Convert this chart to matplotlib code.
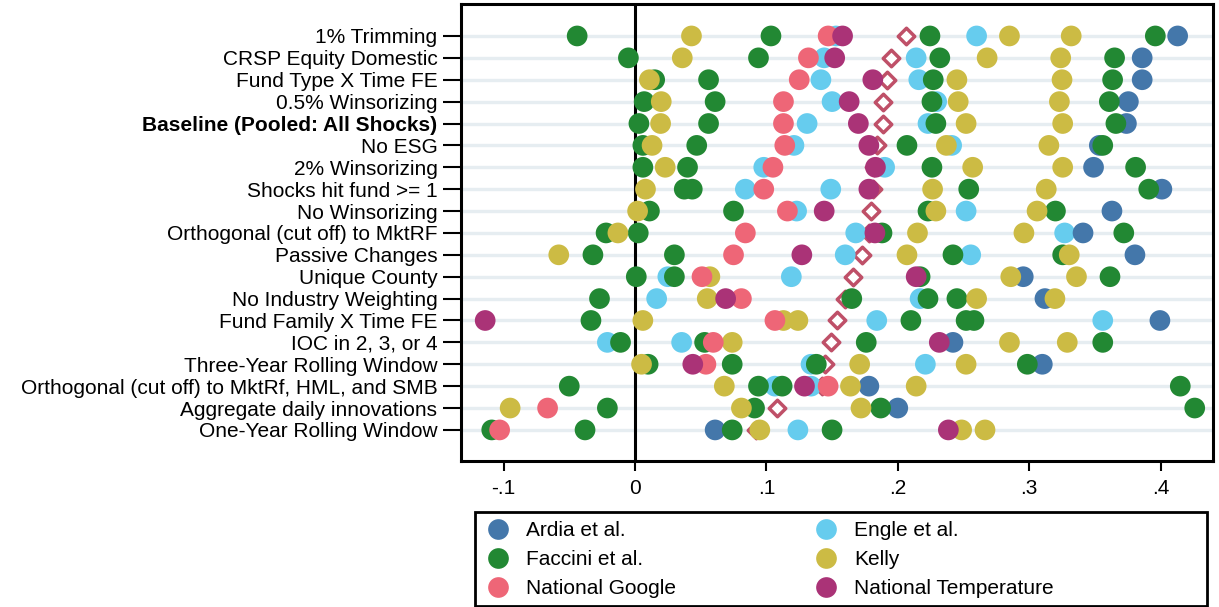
import numpy as np
import matplotlib
matplotlib.use("Agg")
import matplotlib.pyplot as plt
from matplotlib.lines import Line2D
from matplotlib.patches import Rectangle

plt.rcParams['font.family'] = ['Liberation Sans', 'DejaVu Sans']

categories = [
    "1% Trimming", "CRSP Equity Domestic", "Fund Type X Time FE", "0.5% Winsorizing",
    "Baseline (Pooled: All Shocks)", "No ESG", "2% Winsorizing", "Shocks hit fund >= 1",
    "No Winsorizing", "Orthogonal (cut off) to MktRF", "Passive Changes", "Unique County",
    "No Industry Weighting", "Fund Family X Time FE", "IOC in 2, 3, or 4",
    "Three-Year Rolling Window", "Orthogonal (cut off) to MktRf, HML, and SMB",
    "Aggregate daily innovations", "One-Year Rolling Window",
]

ardia = [[0.413], [0.386], [0.386], [0.3755], [0.374], [0.3534], [0.349], [0.401], [0.363],
         [0.341], [0.3805], [0.2955], [0.312], [0.3995], [0.242], [0.310], [0.178], [0.200], [0.061]]

engle = [[0.153, 0.260], [0.144, 0.214], [0.1415, 0.216], [0.150, 0.2296], [0.131, 0.223],
         [0.121, 0.241], [0.098, 0.190], [0.084, 0.149], [0.123, 0.252], [0.168, 0.327],
         [0.160, 0.2555], [0.025, 0.119], [0.0165, 0.217], [0.184, 0.356], [-0.021, 0.0355],
         [0.134, 0.221], [0.1065, 0.134], [], [0.124]]

faccini = [[-0.044, 0.1035, 0.2245, 0.396], [-0.005, 0.094, 0.232, 0.365],
           [0.015, 0.056, 0.227, 0.3635], [0.007, 0.061, 0.226, 0.361],
           [0.003, 0.056, 0.229, 0.366], [0.006, 0.047, 0.207, 0.356],
           [0.006, 0.040, 0.226, 0.381], [0.0375, 0.0436, 0.254, 0.391],
           [0.011, 0.075, 0.223, 0.320], [-0.022, 0.0025, 0.188, 0.372],
           [-0.032, 0.030, 0.242, 0.3255], [0.001, 0.030, 0.217, 0.3615],
           [-0.027, 0.165, 0.223, 0.245], [-0.0335, 0.210, 0.252, 0.258],
           [-0.011, 0.053, 0.176, 0.356], [0.010, 0.074, 0.138, 0.2986],
           [-0.050, 0.094, 0.112, 0.415], [-0.021, 0.091, 0.187, 0.426],
           [-0.109, -0.038, 0.074, 0.150]]

kelly = [[0.043, 0.285, 0.332], [0.036, 0.268, 0.324], [0.011, 0.245, 0.325],
         [0.020, 0.246, 0.323], [0.0195, 0.252, 0.3255], [0.013, 0.237, 0.315],
         [0.023, 0.257, 0.3255], [0.008, 0.2265, 0.313], [0.002, 0.229, 0.306],
         [-0.013, 0.215, 0.296], [-0.058, 0.207, 0.3305], [0.057, 0.286, 0.336],
         [0.055, 0.260, 0.3196], [0.006, 0.113, 0.124], [0.074, 0.285, 0.329],
         [0.005, 0.171, 0.252], [0.068, 0.164, 0.214], [-0.095, 0.081, 0.172],
         [0.095, 0.2486, 0.2664]]

google = [[0.147], [0.132], [0.125], [0.113], [0.113], [0.114], [0.105], [0.098], [0.116],
          [0.084], [0.075], [0.051], [0.081], [0.1065], [0.0596], [0.054], [0.147], [-0.0665], [-0.103]]

temperature = [[0.158], [0.152], [0.181], [0.163], [0.170], [0.178], [0.183], [0.178], [0.144],
               [0.1826], [0.127], [0.214], [0.069], [-0.114], [0.2316], [0.044], [0.129], [], [0.2385]]

average = [0.206, 0.195, 0.1915, 0.189, 0.189, 0.184, 0.182, 0.181, 0.180, 0.178, 0.1725,
           0.166, 0.160, 0.154, 0.1495, 0.1445, 0.142, 0.108, 0.092]

xticks = [-0.1, 0, 0.1, 0.2, 0.3, 0.4]
xticklabels = ["-.1", "0", ".1", ".2", ".3", ".4"]

series = [
    ("Engle et al.", engle, "#66CCEE", 3),
    ("Ardia et al.", ardia, "#4477AA", 4),
    ("Faccini et al.", faccini, "#228833", 5),
    ("Kelly", kelly, "#CCBB44", 6),
    ("National Google", google, "#EE6677", 7),
    ("National Temperature", temperature, "#AA3377", 8),
]

W, H = 1219, 607
fig = plt.figure(figsize=(W / 100, H / 100), dpi=100)
L, R, T, B = 461, 1213, 4, 461
ax = fig.add_axes([L / W, 1 - B / H, (R - L) / W, (B - T) / H])

n = len(categories)
ypos = np.arange(n)

for y in ypos:
    ax.axhline(y, color="#e6edf1", lw=2.4, zorder=0)
ax.axvline(0, color="black", lw=2.2, zorder=1)

ax.scatter(average, ypos, marker="D", s=8.4 ** 2, facecolor="white",
           edgecolor="#bf5068", linewidths=2.5, zorder=2)

dot_s = 14.9 ** 2
colors = {}
for name, data, col, z in series:
    xs, ys = [], []
    for i, vals in enumerate(data):
        for v in vals:
            xs.append(v)
            ys.append(i)
    ax.scatter(xs, ys, s=dot_s, color=col, edgecolors="none", zorder=z)
    colors[name] = col

ax.set_xlim(-0.1324, 0.4399)
ax.set_ylim(n - 1 + 1.42, -1.46)
ax.set_yticks(ypos)
ax.set_yticklabels(categories, fontsize=15)
for lbl in ax.get_yticklabels():
    if lbl.get_text().startswith("Baseline"):
        lbl.set_fontweight("bold")
ax.set_xticks(xticks)
ax.set_xticklabels(xticklabels, fontsize=15)
ax.tick_params(axis="y", length=13, width=1.5, pad=4)
ax.tick_params(axis="x", length=7, width=1.5, pad=6)
for sp in ax.spines.values():
    sp.set_linewidth(2.2)
    sp.set_color("black")

order = ["Ardia et al.", "Faccini et al.", "National Google",
         "Engle et al.", "Kelly", "National Temperature"]
handles = [Line2D([], [], ls="none", marker="o", ms=14.9, color=colors[k], mec="none") for k in order]
lx0, lx1, ly0, ly1 = 475, 1207, 512, 606
leg = fig.legend(handles, order, loc="upper left", ncol=2,
                 bbox_to_anchor=((lx0 + 3) / W, 1 - ly0 / H),
                 fontsize=15, frameon=False,
                 borderpad=0.45, labelspacing=0.48, handletextpad=0.85, handlelength=1.0,
                 borderaxespad=0, columnspacing=6.7)
fig.patches.append(Rectangle((lx0 / W, 1 - ly1 / H), (lx1 - lx0) / W, (ly1 - ly0) / H,
                             transform=fig.transFigure, fill=False, edgecolor="black",
                             linewidth=2.0, zorder=0))

fig.savefig("out.png", dpi=100)
